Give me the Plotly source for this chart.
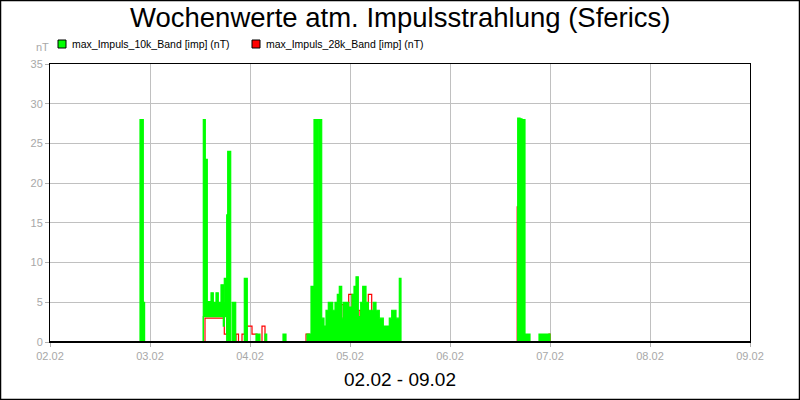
import plotly.graph_objects as go

# ---------------- data ----------------
day_labels = ["02.02", "03.02", "04.02", "05.02", "06.02", "07.02", "08.02", "09.02"]
y_ticks = [0, 5, 10, 15, 20, 25, 30, 35]
series_names = ["max_Impuls_10k_Band [imp] (nT)", "max_Impuls_28k_Band [imp] (nT)"]
series_colors = ["#00ff00", "#ff0000"]

# 10k band: step start (days after 02.02 00:00), upper and lower value of the band in that step
g_day = [0.000, 0.900, 0.933, 0.946,
         1.533, 1.553, 1.573, 1.600, 1.610, 1.633, 1.660, 1.683, 1.710, 1.733, 1.743,
         1.767, 1.777, 1.807, 1.823, 1.857, 1.943, 1.973, 2.060, 2.100, 2.150, 2.167,
         2.330, 2.360,
         2.570, 2.610, 2.640, 2.673, 2.683, 2.717, 2.740, 2.760, 2.783, 2.827, 2.850,
         2.873, 2.893, 2.917, 2.933, 2.987, 3.020, 3.040, 3.060, 3.083, 3.107, 3.127,
         3.160, 3.183, 3.233, 3.260, 3.293, 3.333, 3.393, 3.417, 3.460, 3.493, 3.510,
         4.677, 4.700, 4.720, 4.750, 4.800, 4.890, 5.000, 7.000]
g_hi = [0, 28, 5, 0,
        28, 23, 5.1, 5, 6.2, 5, 6.2, 5, 7.2, 5, 8,
        16, 24, 0, 5, 0, 8, 0, 1, 0, 1, 0,
        1, 0,
        1, 7, 28, 15, 28, 3, 2, 4, 5, 4, 5,
        6, 7, 3, 5, 4.4, 6, 7, 8.2, 3.2, 5, 7,
        5, 4, 5, 4, 3, 2, 3, 4, 3, 8, 0,
        28.2, 28.1, 28.0, 1, 0, 1, 0, 0]
g_lo = [0, 0, 0, 0,
        3.2, 3.2, 3.2, 3.2, 3.2, 3.2, 3.2, 3.2, 3.2, 2, 3.2,
        0, 0, 0, 0, 0, 0, 0, 0, 0, 0, 0,
        0, 0,
        0, 0, 0, 0, 0, 0, 0, 0, 0, 0, 0,
        0, 0, 0, 0, 0, 0, 0, 0, 0, 0, 0,
        0, 0, 0, 0, 0, 0, 0, 0, 0, 0, 0,
        0, 0, 0, 0, 0, 0, 0, 0]

# 28k band: step start (days after 02.02 00:00) and value
r_day = [0.000, 1.550, 1.743, 1.767, 1.793, 1.860, 1.885, 1.920, 1.950, 1.970, 2.020,
         2.070, 2.120, 2.150, 2.560, 2.593, 2.917, 2.937, 2.987, 3.020, 3.090, 3.107,
         3.183, 3.217, 3.250, 3.270, 4.672, 4.690, 4.710, 4.990, 5.000, 7.000]
r_val = [0, 3, 1, 3, 0, 1, 0, 1, 0, 2, 1,
         0, 2, 0, 1, 0, 4.7, 0, 6, 0, 4, 0,
         6, 0, 2, 0, 17, 2, 0, 1, 0, 0]

# ---------------- figure ----------------
FONT = "Liberation Sans, Arial, sans-serif"
ML, MR, MT, MB = 50, 50, 64, 58
W, H = 800, 400
PW, PH = W - ML - MR, H - MT - MB


def px_x(x):
    return (x - ML) / PW


def px_y(y):
    return (H - MB - y) / PH


fig = go.Figure()
fig.add_trace(go.Scatter(x=r_day, y=r_val, mode="lines", name=series_names[1],
                         line=dict(color=series_colors[1], width=1.2, shape="hv"),
                         showlegend=False))
fig.add_trace(go.Scatter(x=g_day, y=g_lo, mode="lines", name=series_names[0],
                         line=dict(color=series_colors[0], width=1.2, shape="hv"),
                         showlegend=False))
fig.add_trace(go.Scatter(x=g_day, y=g_hi, mode="lines", name=series_names[0],
                         line=dict(color=series_colors[0], width=1.2, shape="hv"),
                         fill="tonexty", fillcolor=series_colors[0], showlegend=False))

axis_common = dict(showgrid=True, gridcolor="#c0c0c0", gridwidth=1, zeroline=False,
                   showline=True, linecolor="black", linewidth=1, mirror=True,
                   ticks="outside", ticklen=4, tickcolor="#b0b0b0",
                   tickfont=dict(family=FONT, size=11, color="#a8a8a8"))

fig.update_layout(
    width=W, height=H,
    margin=dict(l=ML, r=MR, t=MT, b=MB),
    paper_bgcolor="white", plot_bgcolor="white",
    showlegend=False,
    font=dict(family=FONT),
    xaxis=dict(range=[0, 7], tickvals=list(range(len(day_labels))), ticktext=day_labels,
               **axis_common),
    yaxis=dict(range=[0, 35], tickvals=y_ticks, ticktext=[str(v) for v in y_ticks],
               **axis_common),
)

annotations = [
    dict(text="Wochenwerte atm. Impulsstrahlung (Sferics)", x=px_x(400), y=px_y(18),
         font=dict(size=27.5, color="black", family=FONT)),
    dict(text="nT", x=px_x(42), y=px_y(47), font=dict(size=11, color="#a8a8a8", family=FONT)),
    dict(text="02.02 - 09.02", x=px_x(400), y=px_y(379),
         font=dict(size=19, color="black", family=FONT)),
]
shapes = [
    # outer frame
    dict(type="rect", xref="paper", yref="paper", x0=px_x(0.5), x1=px_x(W - 0.5),
         y0=px_y(H - 0.5), y1=px_y(0.5), line=dict(color="black", width=1.5)),
    # heavier base line
    dict(type="line", xref="x", yref="y", x0=0, x1=7, y0=0, y1=0,
         line=dict(color="black", width=2), layer="above"),
]
legend_pos = [(58, 70), (252, 264)]
for (sx, tx), name, col in zip(legend_pos, series_names, series_colors):
    shapes.append(dict(type="rect", xref="paper", yref="paper", x0=px_x(sx), x1=px_x(sx + 8),
                       y0=px_y(48), y1=px_y(40), fillcolor=col,
                       line=dict(color="black", width=1)))
    annotations.append(dict(text=name, x=px_x(tx), y=px_y(44), xanchor="left",
                            font=dict(size=10.5, color="black", family=FONT)))

for a in annotations:
    a.setdefault("xanchor", "center")
    a.update(xref="paper", yref="paper", yanchor="middle", showarrow=False)

fig.update_layout(annotations=annotations, shapes=shapes)
fig.write_html("out.html", config={"displayModeBar": False},
               post_script="document.body.style.margin='0';document.body.style.overflow='hidden';")
